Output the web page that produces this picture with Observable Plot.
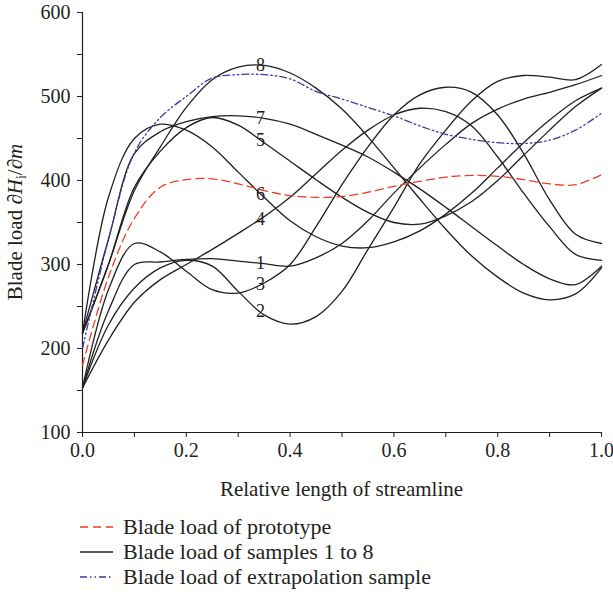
<!DOCTYPE html>
<html><head><meta charset="utf-8">
<script src="https://cdn.jsdelivr.net/npm/d3@7"></script>
<script src="https://cdn.jsdelivr.net/npm/@observablehq/plot@0.6"></script>
<style>
body{margin:0;background:#fff;font-family:"Liberation Serif",serif;}
#legend{position:relative;height:90px;font-size:22px;color:#231f20}
.row{position:absolute;left:80px;display:flex;align-items:center;height:24px}
.row svg{margin-right:10px}
</style></head><body>
<div id="chart"></div>
<div id="legend"></div>
<script>
// relative streamline positions
const xs = [0,0.05,0.1,0.15,0.2,0.25,0.3,0.35,0.4,0.45,0.5,0.55,0.6,0.65,0.7,0.75,0.8,0.85,0.9,0.95,1.0];
// samples 1..8
const s1 = [153,245,300,303,306,307,304,301,298,308,325,352,385,415,443,468,485,497,505,514,525];
const s2 = [153,228,272,296,305,298,268,240,229,238,268,318,368,420,460,495,518,525,523,520,538];
const s3 = [153,270,325,315,292,270,266,278,300,345,395,440,478,502,511,505,478,432,377,336,325];
const s4 = [153,210,255,282,300,318,337,357,380,408,436,460,478,486,482,465,428,385,345,312,305];
const s5 = [218,300,392,435,463,475,466,445,423,401,380,362,350,348,358,375,400,430,460,488,510];
const s6 = [218,380,450,467,460,440,410,380,352,333,322,320,327,340,360,385,415,445,472,495,510];
const s7 = [218,330,432,458,470,476,477,474,467,455,442,428,410,390,368,345,322,300,283,276,298];
const s8 = [218,300,388,440,487,520,535,537,528,510,485,452,415,378,342,310,285,266,258,265,296];
const prototype = [180,285,355,392,401,402,396,388,382,380,381,386,393,399,404,406,405,401,396,395,407];
const extrapolation = [200,330,433,475,500,522,526,526,521,506,497,487,477,465,455,449,445,444,448,460,480];
const sampleNames = ["1","2","3","4","5","6","7","8"];
const sampleSeries = [s1,s2,s3,s4,s5,s6,s7,s8];
const labelAt = 0.343;
const yTicks = [100,150,200,250,300,350,400,450,500,550,600];
const xTicks = [0,0.1,0.2,0.3,0.4,0.5,0.6,0.7,0.8,0.9,1.0];
const legendItems = ["Blade load of prototype","Blade load of samples 1 to 8","Blade load of extrapolation sample"];

const tidy = (arr, name) => arr.map((v,i)=>({x:xs[i], y:v, series:name}));
const samples = sampleSeries.flatMap((a,i)=>tidy(a, sampleNames[i]));
const proto = tidy(prototype,"prototype");
const extra = tidy(extrapolation,"extrapolation");
function interp(arr, x){
  const i = Math.min(xs.length-2, Math.floor(x/0.05));
  const t = (x - xs[i])/(xs[i+1]-xs[i]);
  return arr[i] + t*(arr[i+1]-arr[i]);
}
const labels = sampleSeries.map((a,i)=>({x:labelAt, y:interp(a,labelAt), text:sampleNames[i]}));

const BLACK="#231f20", RED="#f03c24", BLUE="#3d3a9e";
const protoDash="8,5", extraDash="7,3,1.5,3,1.5,3";
const FS = 20;

const chart = Plot.plot({
  width:613, height:505,
  marginLeft:82, marginRight:12, marginTop:12, marginBottom:73,
  style:{fontFamily:"Liberation Serif, serif", fontSize:FS+"px", color:BLACK, background:"#fff"},
  x:{domain:[0,1]},
  y:{domain:[100,600]},
  marks:[
    Plot.axisY({ticks:yTicks, tickFormat:d=> d%100===0 ? String(d) : "", tickSize:5, tickPadding:7, label:null, fontSize:FS}),
    Plot.axisX({ticks:xTicks, tickFormat:d=> Math.round(d*10)%2===0 ? d.toFixed(1) : "", tickSize:5, tickPadding:5, label:null, fontSize:FS}),
    Plot.ruleX([0],{stroke:BLACK, strokeWidth:1.2}),
    Plot.ruleY([100],{stroke:BLACK, strokeWidth:1.2}),
    Plot.line(samples,{x:"x", y:"y", z:"series", stroke:BLACK, strokeWidth:1.3, curve:"catmull-rom"}),
    Plot.line(proto,{x:"x", y:"y", stroke:RED, strokeWidth:1.3, strokeDasharray:protoDash, curve:"catmull-rom"}),
    Plot.line(extra,{x:"x", y:"y", stroke:BLUE, strokeWidth:1.3, strokeDasharray:extraDash, curve:"catmull-rom"}),
    Plot.text(labels,{x:"x", y:"y", text:"text", fontSize:18, fill:BLACK})
  ]
});
document.getElementById("chart").appendChild(chart);
const svg = d3.select(chart);
svg.append("text").attr("x", (82+601)/2).attr("y", 496).attr("text-anchor","middle")
  .attr("font-size",21).attr("fill",BLACK).text("Relative length of streamline");
const yt = svg.append("text").attr("transform","translate(22,222) rotate(-90)")
  .attr("text-anchor","middle").attr("font-size",21).attr("fill",BLACK);
yt.append("tspan").text("Blade load ∂");
yt.append("tspan").attr("font-style","italic").text("H");
yt.append("tspan").attr("font-size",14).attr("dy",4).text("i");
yt.append("tspan").attr("dy",-4).text("/∂");
yt.append("tspan").attr("font-style","italic").text("m");

const styles = [{c:RED,d:protoDash},{c:BLACK,d:null},{c:BLUE,d:extraDash}];
const leg = document.getElementById("legend");
legendItems.forEach((t,i)=>{
  const row = document.createElement("div");
  row.className="row"; row.style.top = (10 + i*25) + "px";
  const s = d3.create("svg").attr("width",33).attr("height",24);
  s.append("line").attr("x1",0).attr("x2",33).attr("y1",12).attr("y2",12)
    .attr("stroke",styles[i].c).attr("stroke-width",1.3).attr("stroke-dasharray",styles[i].d);
  row.appendChild(s.node());
  const span = document.createElement("span"); span.textContent=t; row.appendChild(span);
  leg.appendChild(row);
});
</script>
</body></html>
